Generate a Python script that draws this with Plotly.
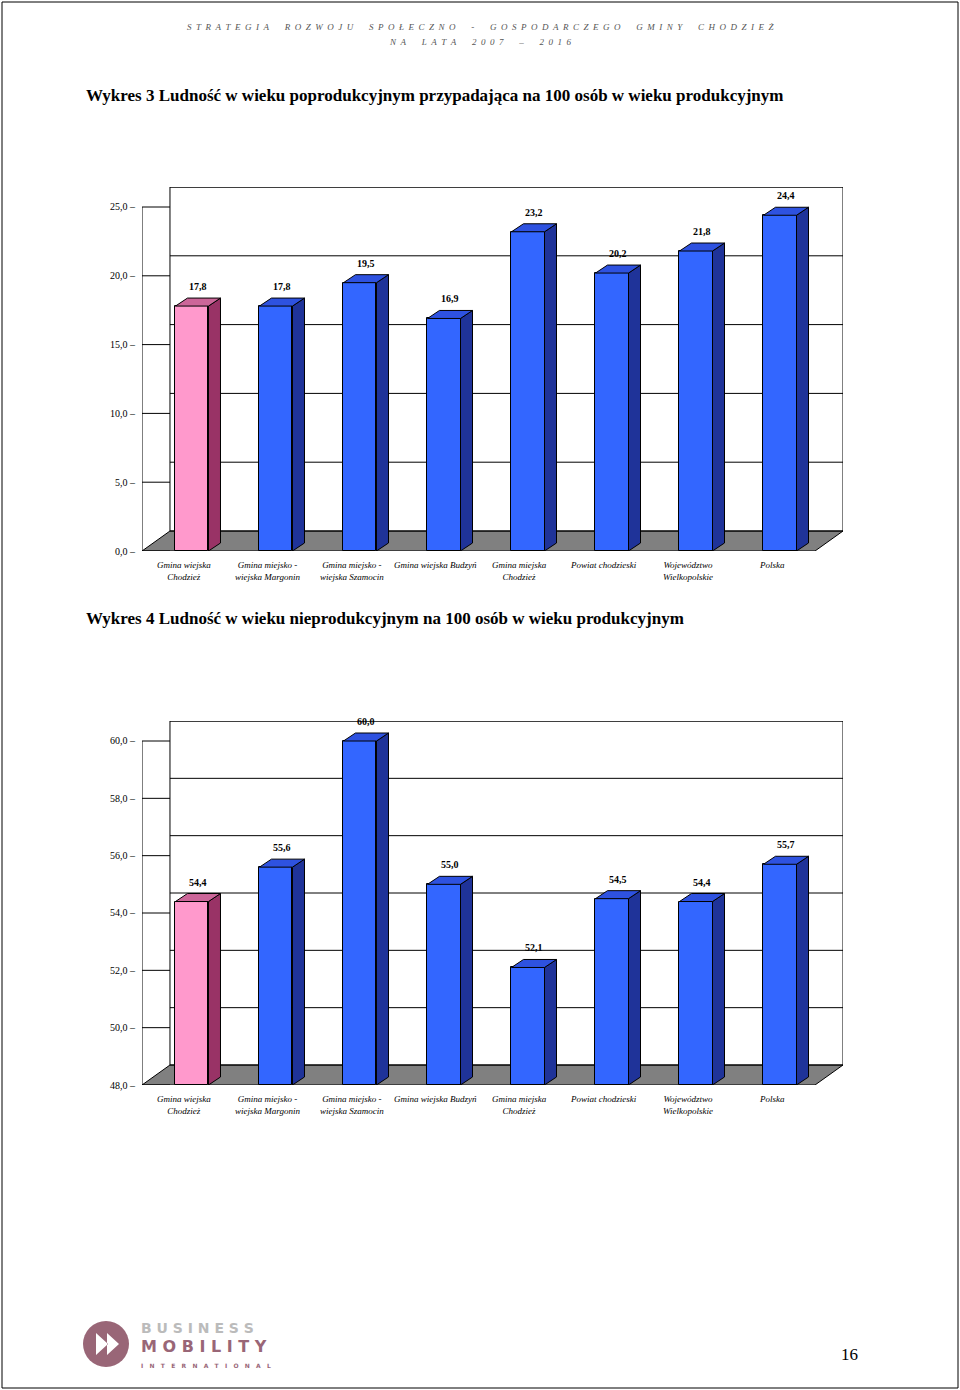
import plotly.graph_objects as go

categories = ["Gmina wiejska<br>Chodzież", "Gmina miejsko -<br>wiejska Margonin", "Gmina miejsko -<br>wiejska Szamocin",
              "Gmina wiejska Budzyń", "Gmina miejska<br>Chodzież", "Powiat chodzieski", "Województwo<br>Wielkopolskie", "Polska"]
values1 = [17.8, 17.8, 19.5, 16.9, 23.2, 20.2, 21.8, 24.4]
values2 = [54.4, 55.6, 60.0, 55.0, 52.1, 54.5, 54.4, 55.7]
ticks1 = [0, 5, 10, 15, 20, 25]
ticks2 = [48, 50, 52, 54, 56, 58, 60]

W, H = 960, 1390
def py(p): return 1 - p / H

fig = go.Figure()
shapes, ann = [], []
XL, XR = -0.595, 7.417
DX = 0.333
BDX = 12 / 84
BW = 0.393
FONT = "Liberation Serif, Times New Roman, serif"

def chart(vals, ticks, ymin, ymax_front, pxb, pxt, xa, ya, nx):
    ppu = (pxb - pxt - 20) / (ymax_front - ymin)
    dy = 20 / ppu
    bdy = 8 / ppu
    yr = dict(xref=xa, yref=ya)
    fig.update_layout(**{
        nx.replace("x", "xaxis"): dict(domain=[142 / W, 843 / W], range=[XL, XR + DX], visible=False, fixedrange=True),
        ya.replace("y", "yaxis"): dict(domain=[py(pxb), py(pxt)], range=[ymin, ymax_front + dy], visible=False, fixedrange=True),
    })
    shapes.append(dict(type="path", path=f"M {XL},{ymin} L {XL+DX},{ymin+dy} L {XR+DX},{ymin+dy} L {XR},{ymin} Z",
                       fillcolor="#808080", line=dict(color="black", width=1), layer="below", **yr))
    shapes.append(dict(type="path", path=f"M {XL+DX},{ymin+dy} L {XL+DX},{ymax_front+dy} L {XR+DX},{ymax_front+dy} L {XR+DX},{ymin+dy}",
                       line=dict(color="black", width=1), layer="below", **yr))
    shapes.append(dict(type="line", x0=XL, x1=XL, y0=ymin, y1=ymax_front, line=dict(color="black", width=1), **yr))
    for t in ticks:
        shapes.append(dict(type="line", x0=XL + DX, x1=XR + DX, y0=t + dy, y1=t + dy, line=dict(color="black", width=1), layer="below", **yr))
        shapes.append(dict(type="line", x0=XL, x1=XL + DX, y0=t, y1=t, line=dict(color="black", width=1), layer="below", **yr))
        ann.append(dict(x=138 / W, y=t, xref="paper", yref=ya, text=f"{t:.1f}".replace(".", ",") + " –", showarrow=False, xanchor="right",
                        font=dict(size=10, family=FONT, color="black")))
    cols = ["#FF99CC"] + ["#3366FF"] * 7
    sides = ["#993366"] + ["#1F3399"] * 7
    tops = ["#CC6699"] + ["#2E52E0"] * 7
    xs = list(range(len(vals)))
    fig.add_trace(go.Bar(x=xs, y=[v - ymin for v in vals], base=ymin, width=BW, marker=dict(color=cols, line=dict(color="black", width=1)),
                         xaxis=nx, yaxis=ya, hoverinfo="skip", showlegend=False))
    for i, v in enumerate(vals):
        l, r = i - BW / 2, i + BW / 2
        shapes.append(dict(type="path", path=f"M {r},{ymin} L {r+BDX},{ymin+bdy} L {r+BDX},{v+bdy} L {r},{v} Z",
                           fillcolor=sides[i], line=dict(color="black", width=1), **yr))
        shapes.append(dict(type="path", path=f"M {l},{v} L {l+BDX},{v+bdy} L {r+BDX},{v+bdy} L {r},{v} Z",
                           fillcolor=tops[i], line=dict(color="black", width=1), **yr))
        ann.append(dict(x=i + 0.07, y=v + bdy, text=f"<b>{v:.1f}</b>".replace(".", ","), showarrow=False, yanchor="bottom",
                        yshift=4, font=dict(size=10, family=FONT, color="black"), **yr))
        ann.append(dict(x=i - 0.1, y=py(pxb + 7), xref=xa, yref="paper", text=f"<i>{categories[i]}</i>", showarrow=False,
                        yanchor="top", align="center", font=dict(size=9, family=FONT, color="black")))

chart(values1, ticks1, 0, 25, 551, 187, "x", "y", "x")
chart(values2, ticks2, 48, 60, 1085, 721, "x2", "y2", "x2")

def sp(s):
    return "&nbsp;&nbsp;".join(s).replace("&nbsp;&nbsp; &nbsp;&nbsp;", "&nbsp;&nbsp;&nbsp;&nbsp;&nbsp;&nbsp;&nbsp;")

ann += [
    dict(x=84 / W, y=py(84), xref="paper", yref="paper", xanchor="left", showarrow=False,
         text="<b>Wykres 3 Ludność w wieku poprodukcyjnym przypadająca na 100 osób w wieku produkcyjnym</b>",
         font=dict(size=17, family=FONT, color="black")),
    dict(x=84 / W, y=py(618), xref="paper", yref="paper", xanchor="left", showarrow=False,
         text="<b>Wykres 4 Ludność w wieku nieprodukcyjnym na 100 osób w wieku produkcyjnym</b>",
         font=dict(size=17, family=FONT, color="black")),
    dict(x=0.5, y=py(20), xref="paper", yref="paper", showarrow=False,
         text="<i>" + sp("STRATEGIA ROZWOJU SPOŁECZNO - GOSPODARCZEGO GMINY CHODZIEŻ") + "</i>",
         font=dict(size=9, family=FONT, color="#555")),
    dict(x=0.5, y=py(35), xref="paper", yref="paper", showarrow=False,
         text="<i>" + sp("NA LATA 2007 – 2016") + "</i>", font=dict(size=9, family=FONT, color="#555")),
    dict(x=860 / W, y=py(1366), xref="paper", yref="paper", showarrow=False, text="16",
         font=dict(size=17, family=FONT, color="black")),
    dict(x=139 / W, y=py(1338), xref="paper", yref="paper", xanchor="left", showarrow=False,
         text="<b>B U S I N E S S</b>", font=dict(size=14, family="DejaVu Sans", color="#BBBBBB")),
    dict(x=139 / W, y=py(1358), xref="paper", yref="paper", xanchor="left", showarrow=False,
         text="<b>M O B I L I T Y</b>", font=dict(size=16, family="DejaVu Sans", color="#996677")),
    dict(x=139 / W, y=py(1371), xref="paper", yref="paper", xanchor="left", showarrow=False,
         text="<b>I&nbsp;&nbsp;&nbsp;N&nbsp;&nbsp;&nbsp;T&nbsp;&nbsp;&nbsp;E&nbsp;&nbsp;&nbsp;R&nbsp;&nbsp;&nbsp;N&nbsp;&nbsp;&nbsp;A&nbsp;&nbsp;&nbsp;T&nbsp;&nbsp;&nbsp;I&nbsp;&nbsp;&nbsp;O&nbsp;&nbsp;&nbsp;N&nbsp;&nbsp;&nbsp;A&nbsp;&nbsp;&nbsp;L</b>",
         font=dict(size=6, family="DejaVu Sans", color="#996677")),
]
shapes += [
    dict(type="rect", xref="paper", yref="paper", x0=2 / W, x1=958 / W, y0=py(1388), y1=py(2), line=dict(color="black", width=1)),
    dict(type="circle", xref="paper", yref="paper", x0=83 / W, x1=129 / W, y0=py(1367), y1=py(1321), fillcolor="#996677", line=dict(width=0)),
    dict(type="path", xref="paper", yref="paper",
         path=f"M {96/W},{py(1333)} L {108/W},{py(1344)} L {96/W},{py(1355)} Z M {107/W},{py(1333)} L {119/W},{py(1344)} L {107/W},{py(1355)} Z",
         fillcolor="white", line=dict(width=0)),
]

fig.update_layout(width=W, height=H, margin=dict(l=0, r=0, t=0, b=0), paper_bgcolor="white", plot_bgcolor="rgba(0,0,0,0)",
                  shapes=shapes, annotations=ann, bargap=0)
fig.write_html("out.html", config={"displayModeBar": False})
with open("out.html", encoding="utf-8") as f:
    html = f.read()
html = html.replace("<head>", "<head><style>html,body{margin:0;padding:0;overflow:hidden}</style>", 1)
with open("out.html", "w", encoding="utf-8") as f:
    f.write(html)
